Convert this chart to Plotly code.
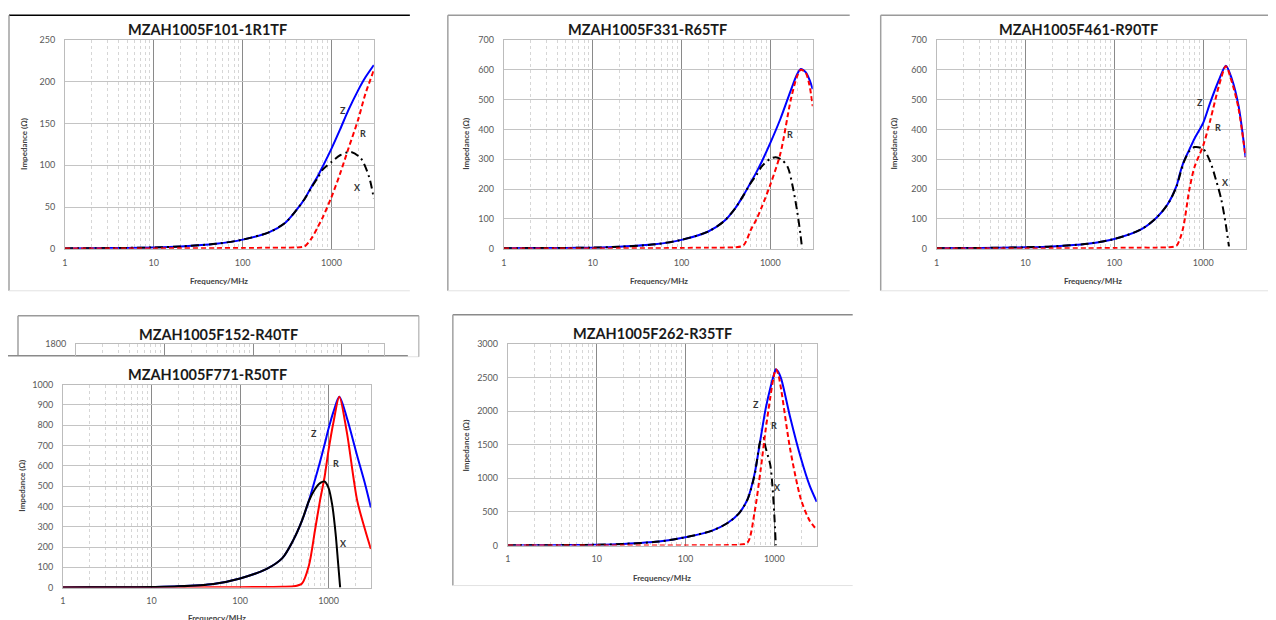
import plotly.graph_objects as go
import math

W, H = 1276, 620

# ---------------- data ----------------
TITLES = ["MZAH1005F101-1R1TF", "MZAH1005F331-R65TF", "MZAH1005F461-R90TF",
          "MZAH1005F152-R40TF", "MZAH1005F771-R50TF", "MZAH1005F262-R35TF"]

# Panel 1
F1 = [1, 2, 5, 10, 20, 50, 100, 200, 300, 400, 500, 600, 700, 800, 1000, 1250, 1550, 2000, 2400, 3000]
Z1 = [0.5, 0.7, 1.1, 1.6, 2.8, 6, 11, 20, 31, 46, 60, 75, 87, 99, 120, 143, 166, 190, 205, 220]
R1 = [0.5, 0.5, 0.5, 0.5, 0.6, 0.8, 1, 1.2, 1.4, 1.6, 3, 13, 26, 38, 62, 90, 120, 155, 185, 214]
FX1 = [1, 2, 5, 10, 20, 50, 100, 200, 300, 400, 500, 600, 700, 800, 1000, 1250, 1650, 2150, 2650, 3000]
X1 = [0.5, 0.7, 1.1, 1.6, 2.8, 6, 11, 20, 31, 46, 60, 74, 85, 95, 104, 112, 116, 108, 86, 60]

# Panel 2
F2 = [1, 2, 5, 10, 20, 50, 100, 200, 300, 400, 500, 600, 700, 800, 1000, 1300, 1700, 2000, 2200, 2500, 2750, 3000]
Z2 = [2, 2.5, 3, 4, 7, 15, 30, 58, 92, 135, 180, 222, 258, 292, 355, 436, 531, 585, 603, 592, 568, 535]
R2 = [1, 1, 1, 1, 1.5, 2, 3, 3.5, 4, 5, 12, 62, 100, 140, 215, 320, 500, 578, 600, 590, 550, 478]
FX2 = [1, 2, 5, 10, 20, 50, 100, 200, 300, 400, 500, 600, 700, 800, 1000, 1150, 1350, 1570, 1790, 2000, 2180, 2280]
X2 = [2, 2.5, 3, 4, 7, 15, 30, 58, 92, 135, 180, 220, 248, 276, 302, 307, 298, 274, 207, 128, 50, 0]

# Panel 3
F3 = [1, 2, 5, 10, 20, 50, 100, 200, 300, 400, 500, 550, 600, 700, 800, 1000, 1200, 1500, 1800, 2100, 2500, 3000]
Z3 = [2, 2.5, 3.5, 5, 8, 17, 33, 65, 105, 150, 210, 255, 290, 333, 370, 422, 490, 565, 614, 570, 480, 307]
R3 = [1, 1, 1, 1, 1.5, 2, 3, 4, 4, 5, 10, 35, 75, 200, 275, 346, 430, 545, 612, 560, 470, 307]
FX3 = [1, 2, 5, 10, 20, 50, 100, 200, 300, 400, 500, 600, 700, 800, 1000, 1200, 1400, 1600, 1800, 1950]
X3 = [2, 2.5, 3.5, 5, 8, 17, 33, 65, 105, 150, 208, 288, 328, 341, 335, 292, 229, 165, 80, 8]

# Panel 5 (front, lower left)
F5 = [1, 2, 5, 10, 20, 50, 100, 200, 300, 400, 500, 600, 700, 800, 900, 1000, 1140, 1320, 1600, 2100, 2600, 3000]
Z5 = [0.5, 1, 1.5, 3, 6, 18, 45, 92, 145, 235, 330, 430, 530, 620, 705, 785, 870, 941, 840, 650, 505, 395]
R5 = [0.2, 0.2, 0.3, 0.3, 0.5, 1, 2, 3, 4, 6, 20, 110, 280, 430, 545, 680, 820, 941, 770, 430, 280, 190]
FX5 = [1, 2, 5, 10, 20, 50, 100, 200, 300, 400, 500, 600, 700, 800, 900, 1000, 1100, 1200, 1280, 1350]
X5 = [0.5, 1, 1.5, 3, 6, 18, 45, 92, 145, 235, 330, 428, 485, 515, 523, 490, 405, 265, 120, 0]

# Panel 6
F6 = [1, 2, 5, 10, 20, 50, 100, 200, 300, 400, 500, 600, 700, 800, 900, 1000, 1040, 1100, 1200, 1500, 2000, 2500, 3000]
Z6 = [3, 5, 8, 12, 25, 60, 124, 223, 340, 480, 690, 1070, 1590, 2040, 2340, 2560, 2622, 2590, 2470, 1920, 1290, 890, 650]
R6 = [0.5, 0.5, 0.5, 0.5, 1, 2, 3, 5, 8, 12, 45, 500, 1120, 1730, 2200, 2560, 2620, 2560, 2300, 1450, 680, 370, 235]
FX6 = [1, 2, 5, 10, 20, 50, 100, 200, 300, 400, 500, 600, 700, 750, 800, 900, 950, 1000, 1040]
X6 = [3, 5, 8, 12, 25, 60, 124, 223, 340, 480, 688, 1050, 1560, 1600, 1450, 1200, 900, 450, 0]

Y_MAX = [250, 700, 700, 1800, 1000, 3000]
Y_STEP = [50, 100, 100, 200, 100, 500]
X_MAJOR = [1, 10, 100, 1000]
X_MAJOR_TEXT = ["1", "10", "100", "1000"]
X_MINOR = [d * m for m in (1, 10, 100, 1000) for d in range(2, 10) if d * m < 3000]
X_MAX = 3000

# ---------------- layout geometry (target pixels) ----------------
AREAS = [(64, 373, 39, 248), (503, 812, 39, 248), (936, 1245, 39, 248),
         (75, 383, 343, 355), (62, 370, 384, 587), (507, 816, 343, 545)]
# frame: x0, ytop, x1, ybottom, top colour, has right border
FRAMES = [(8, 9, 409, 290, "#000000", False), (447, 9, 849, 290, "#9a9a9a", False),
          (880, 9, 1300, 290, "#9a9a9a", False), (17, 315, 418, 356, "#9a9a9a", True),
          (5, 355, 407, 660, "#8a8a8a", False), (452, 314, 852, 585, "#8a8a8a", False)]
TITLE_POS = [(207, 29), (647, 29), (1078, 29), (218, 334), (207, 374), (652, 333)]
YT_POS = [(23, 143), (465, 143), (893, 143), None, (21, 485), (465, 445)]
XT_POS = [(218, 280), (658, 280), (1092, 280), None, (216, 617), (661, 577)]
LABELS = [[("Z", 342, 110), ("R", 362, 133), ("X", 357, 187)],
          [("R", 789, 134)],
          [("Z", 1199, 102), ("R", 1217, 127), ("X", 1225, 182)],
          [],
          [("Z", 313, 433), ("R", 335, 463), ("X", 343, 543)],
          [("Z", 755, 404), ("R", 773, 425), ("X", 777, 487)]]

# page offset compensation (measured from the rendered photo)
OX, SX = 10.0, 0.998
OY, SY = 13.0, 0.983


def px(x):
    return ((x - OX) / SX) / W


def py(y):
    return min(0.998, 1 - ((y - OY) / SY) / H)


FONT = "Lato, 'Open Sans', sans-serif"
fig = go.Figure()

BLUE, RED, BLACK = "#0000ff", "#ff0000", "#000000"
RDASH = "5px,3px"
XDASH = "8px,4px,2px,4px"

series = [
    (F1, Z1, R1, FX1, X1, False),
    (F2, Z2, R2, FX2, X2, False),
    (F3, Z3, R3, FX3, X3, False),
    None,
    (F5, Z5, R5, FX5, X5, True),
    (F6, Z6, R6, FX6, X6, False),
]

for i, s in enumerate(series):
    n = i + 1
    xa = "x" if n == 1 else f"x{n}"
    ya = "y" if n == 1 else f"y{n}"
    if s is None:
        fig.add_trace(go.Scatter(x=[1], y=[None], xaxis=xa, yaxis=ya, showlegend=False))
        continue
    F, Z, R, FX, X, solid = s
    fig.add_trace(go.Scatter(x=F, y=Z, mode="lines", xaxis=xa, yaxis=ya,
                             line=dict(color=BLUE, width=2, shape="spline", smoothing=0.8),
                             showlegend=False, name="Z"))
    if solid:
        fig.add_trace(go.Scatter(x=F, y=R, mode="lines", xaxis=xa, yaxis=ya,
                                 line=dict(color=RED, width=2, shape="spline", smoothing=0.8),
                                 showlegend=False, name="R"))
        fig.add_trace(go.Scatter(x=FX, y=X, mode="lines", xaxis=xa, yaxis=ya,
                                 line=dict(color=BLACK, width=2, shape="spline", smoothing=0.8),
                                 showlegend=False, name="X"))
    else:
        fig.add_trace(go.Scatter(x=FX, y=X, mode="lines", xaxis=xa, yaxis=ya,
                                 line=dict(color=BLACK, width=2, dash=XDASH, shape="spline", smoothing=0.8),
                                 showlegend=False, name="X"))
        fig.add_trace(go.Scatter(x=F, y=R, mode="lines", xaxis=xa, yaxis=ya,
                                 line=dict(color=RED, width=2, dash=RDASH, shape="spline", smoothing=0.8),
                                 showlegend=False, name="R"))

layout = dict(width=W, height=H, margin=dict(l=0, r=0, t=0, b=0),
              paper_bgcolor="white", plot_bgcolor="white", showlegend=False)

shapes = []
annotations = []
for i in range(6):
    n = i + 1
    x0, x1, yt, yb = AREAS[i]
    xkey = "xaxis" if n == 1 else f"xaxis{n}"
    ykey = "yaxis" if n == 1 else f"yaxis{n}"
    ya = "y" if n == 1 else f"y{n}"
    xa = "x" if n == 1 else f"x{n}"
    partial = (n == 4)
    layout[xkey] = dict(
        type="log", range=[0, math.log10(X_MAX)], domain=[px(x0), px(x1)], anchor=ya,
        tickmode="array", tickvals=X_MAJOR, ticktext=X_MAJOR_TEXT,
        showgrid=True, gridcolor="#8a8a8a", gridwidth=1,
        minor=dict(tickmode="array", tickvals=X_MINOR, showgrid=True,
                   gridcolor="#d6d6d6", griddash="dot", gridwidth=1, ticks=""),
        showline=True, mirror=True, linecolor="#bcbcbc", linewidth=1,
        ticks="", showticklabels=not partial, ticklabelstandoff=5,
        tickfont=dict(family=FONT, size=9, color="#595959"),
        zeroline=False, fixedrange=True,
    )
    if partial:
        yr = [Y_MAX[i] - 100, Y_MAX[i]]
        ytv = [Y_MAX[i]]
    else:
        yr = [0, Y_MAX[i]]
        ytv = list(range(0, Y_MAX[i] + 1, Y_STEP[i]))
    layout[ykey] = dict(
        range=yr, domain=[max(0, py(yb)), min(1, py(yt))], anchor=xa,
        tickmode="array", tickvals=ytv, ticktext=[str(v) for v in ytv],
        showgrid=True, gridcolor="#c4c4c4", gridwidth=1,
        showline=True, mirror=True, linecolor="#bcbcbc", linewidth=1,
        ticks="", ticklabelstandoff=7,
        tickfont=dict(family=FONT, size=9, color="#595959"),
        zeroline=False, fixedrange=True,
    )
    fx0, fy0, fx1, fy1, topc, rightb = FRAMES[i]
    # white panel background
    shapes.append(dict(type="rect", xref="paper", yref="paper", layer="below",
                       x0=px(fx0), x1=px(fx1), y0=py(fy1), y1=py(fy0),
                       line=dict(width=0), fillcolor="white"))
    # top, left, bottom edges
    shapes.append(dict(type="line", xref="paper", yref="paper", layer="below",
                       x0=px(fx0), x1=px(fx1), y0=py(fy0), y1=py(fy0),
                       line=dict(color=topc, width=1.5)))
    shapes.append(dict(type="line", xref="paper", yref="paper", layer="below",
                       x0=px(fx0), x1=px(fx0), y0=py(fy1), y1=py(fy0),
                       line=dict(color="#a0a0a0", width=1.5)))
    shapes.append(dict(type="line", xref="paper", yref="paper", layer="below",
                       x0=px(fx0), x1=px(fx1), y0=py(fy1), y1=py(fy1),
                       line=dict(color="#e2e2e2", width=1)))
    if rightb:
        shapes.append(dict(type="line", xref="paper", yref="paper", layer="below",
                           x0=px(fx1), x1=px(fx1), y0=py(fy1), y1=py(fy0),
                           line=dict(color="#a0a0a0", width=1)))
    tx, ty = TITLE_POS[i]
    annotations.append(dict(text="<b>%s</b>" % TITLES[i], x=px(tx), y=py(ty), xref="paper", yref="paper",
                            showarrow=False, xanchor="center", yanchor="middle",
                            font=dict(family=FONT, size=14.5, color="#1a1a1a")))
    if YT_POS[i]:
        ax_, ay_ = YT_POS[i]
        annotations.append(dict(text="<b>Impedance (Ω)</b>", x=px(ax_), y=py(ay_), xref="paper", yref="paper",
                                showarrow=False, textangle=-90, xanchor="center", yanchor="middle",
                                font=dict(family=FONT, size=8, color="#404040")))
    if XT_POS[i]:
        ax_, ay_ = XT_POS[i]
        annotations.append(dict(text="<b>Frequency/MHz</b>", x=px(ax_), y=py(ay_), xref="paper", yref="paper",
                                showarrow=False, xanchor="center", yanchor="middle",
                                font=dict(family=FONT, size=8, color="#404040")))
    for (t, lx, ly) in LABELS[i]:
        annotations.append(dict(text="<b>%s</b>" % t, x=px(lx), y=py(ly), xref="paper", yref="paper",
                                showarrow=False, xanchor="center", yanchor="middle",
                                font=dict(family=FONT, size=9, color="#333333")))

layout["shapes"] = shapes
layout["annotations"] = annotations
fig.update_layout(**layout)
fig.write_html("out.html")
